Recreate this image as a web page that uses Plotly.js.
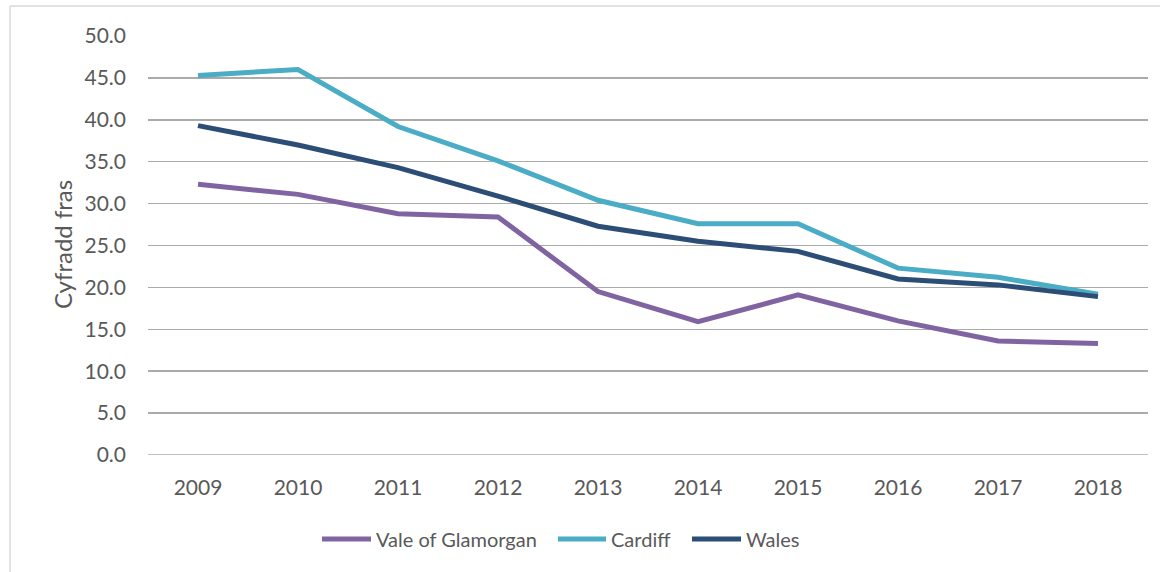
<!DOCTYPE html>
<html>
<head>
<meta charset="utf-8">
<script src="https://cdn.plot.ly/plotly-3.0.1.min.js"></script>
<style>html,body{margin:0;padding:0;background:#fff;}#chart{width:1171px;height:572px;}</style>
</head>
<body>
<div id="chart"></div>
<script>
const years = ['2009','2010','2011','2012','2013','2014','2015','2016','2017','2018'];
const vale = [32.3, 31.1, 28.8, 28.4, 19.5, 15.9, 19.1, 16.0, 13.6, 13.3];
const cardiff = [45.3, 46.0, 39.2, 35.1, 30.4, 27.6, 27.6, 22.3, 21.2, 19.2];
const wales = [39.3, 37.0, 34.3, 30.9, 27.3, 25.5, 24.3, 21.0, 20.3, 18.9];
const seriesNames = ['Vale of Glamorgan', 'Cardiff', 'Wales'];
const seriesColors = ['#8064a2', '#4bacc6', '#2c4d75'];
const seriesData = [vale, cardiff, wales];
const yTicks = [0,5,10,15,20,25,30,35,40,45,50];
const yAxisTitle = 'Cyfradd fras';

// plot-area geometry in pixels (layout only)
const W = 1171, H = 572, L = 148, R = 1148, T = 36, B = 455;
const px = x => (x - L) / (R - L);
const py = y => (B - y) / (B - T);

const traces = seriesData.map((d, i) => ({
  x: years, y: d, type: 'scatter', mode: 'lines', name: seriesNames[i],
  line: {color: seriesColors[i], width: 5}, showlegend: false
}));

const fam = 'Lato, "Open Sans", sans-serif';
const tickFont = {family: fam, color: '#595959', size: 21};

// custom legend (sample line start, end, text start) in pixels
const legendX = [[322, 371, 374], [558, 606, 609], [692, 741, 744]];
const legendY = 539;

const shapes = [
  {type: 'line', xref: 'paper', yref: 'y', x0: 0, x1: 1, y0: 0, y1: 0,
   line: {color: '#ababab', width: 1.5}},
  {type: 'line', xref: 'paper', yref: 'paper', x0: px(10), x1: px(1160), y0: py(6), y1: py(6),
   line: {color: '#d9d9d9', width: 1.5}},
  {type: 'line', xref: 'paper', yref: 'paper', x0: px(10), x1: px(10), y0: py(6), y1: py(590),
   line: {color: '#d9d9d9', width: 1.5}}
];
const annotations = [
  {xref: 'paper', yref: 'paper', x: px(62), y: py(245), text: yAxisTitle, textangle: -90,
   showarrow: false, xanchor: 'center', yanchor: 'middle',
   font: {family: fam, size: 24, color: '#595959'}}
];
seriesNames.forEach((n, i) => {
  shapes.push({type: 'line', xref: 'paper', yref: 'paper',
    x0: px(legendX[i][0]), x1: px(legendX[i][1]), y0: py(legendY), y1: py(legendY),
    line: {color: seriesColors[i], width: 5}});
  annotations.push({xref: 'paper', yref: 'paper', x: px(legendX[i][2]), y: py(legendY),
    text: n, showarrow: false, xanchor: 'left', yanchor: 'middle',
    font: {family: fam, size: 20, color: '#595959'}});
});

const layout = {
  width: W, height: H,
  margin: {l: L, r: W - R, t: T, b: H - B},
  paper_bgcolor: '#ffffff', plot_bgcolor: '#ffffff',
  font: tickFont,
  showlegend: false,
  xaxis: {type: 'category', range: [-0.5, 9.5], showgrid: false, zeroline: false,
          showline: false, ticks: '', tickfont: tickFont, ticklabelstandoff: 18, fixedrange: true},
  yaxis: {range: [0, 50], tickvals: yTicks, ticktext: yTicks.map(v => v.toFixed(1)),
          showgrid: true, gridcolor: '#ababab', gridwidth: 1.5, zeroline: false,
          showline: false, ticks: '', tickfont: tickFont, ticklabelstandoff: 21},
  shapes: shapes,
  annotations: annotations
};

Plotly.newPlot('chart', traces, layout, {staticPlot: true, displayModeBar: false});
</script>
</body>
</html>
